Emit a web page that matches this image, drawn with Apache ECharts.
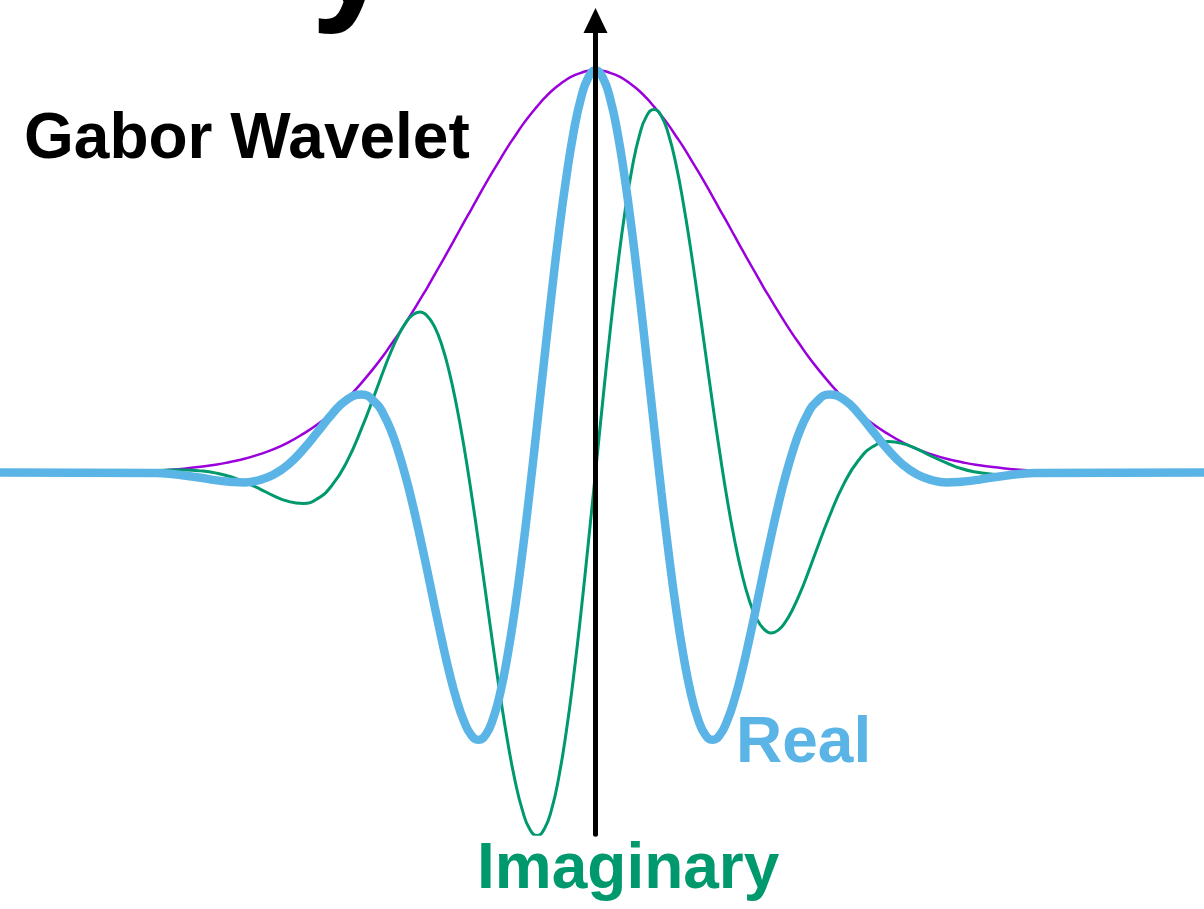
<!DOCTYPE html>
<html>
<head>
<meta charset="utf-8">
<title>Gabor Wavelet</title>
<script src="https://cdn.jsdelivr.net/npm/echarts@6/dist/echarts.min.js"></script>
<style>
  html, body { margin: 0; padding: 0; background: #ffffff; }
  #chart { width: 1204px; height: 909px; }
</style>
</head>
<body>
<div id="chart"></div>
<script>
// Sample positions along the horizontal axis (centre of the wavelet at 0);
// half steps near the centre where the oscillation is strongest
const positions = [
  -30, -29, -28, -27, -26, -25, -24, -23, -22, -21, -20, -19, -18, -17, -16, -15,
  -14.5, -14, -13.5, -13, -12.5, -12, -11.5, -11, -10.5, -10, -9.5, -9, -8.5, -8,
  -7.5, -7, -6.5, -6, -5.5, -5, -4.5, -4, -3.5, -3, -2.5, -2, -1.5, -1, -0.5,
  0,
  0.5, 1, 1.5, 2, 2.5, 3, 3.5, 4, 4.5, 5, 5.5, 6, 6.5, 7, 7.5,
  8, 8.5, 9, 9.5, 10, 10.5, 11, 11.5, 12, 12.5, 13, 13.5, 14, 14.5,
  15, 16, 17, 18, 19, 20, 21, 22, 23, 24, 25, 26, 27, 28, 29, 30
];

// Real part of the wavelet
const realPart = [
  -0.001, -0.004, -0.008, -0.013, -0.019, -0.023, -0.025, -0.019, -0.005, 0.020,
  0.057, 0.101, 0.146, 0.181, 0.194, 0.172,
  0.145, 0.106, 0.054, -0.008, -0.080, -0.160, -0.245, -0.333, -0.418, -0.497,
  -0.565, -0.618, -0.653, -0.665, -0.652, -0.612, -0.546, -0.453, -0.337, -0.200,
  -0.047, 0.116, 0.282, 0.445, 0.598, 0.733, 0.846, 0.930, 0.982,
  1.000,
  0.982, 0.930, 0.846, 0.733, 0.598, 0.445, 0.282, 0.116, -0.047, -0.200,
  -0.337, -0.453, -0.546, -0.612, -0.652, -0.665, -0.653, -0.618, -0.565, -0.497,
  -0.418, -0.333, -0.245, -0.160, -0.080, -0.008, 0.054, 0.106, 0.145,
  0.172, 0.194, 0.181, 0.146, 0.101, 0.057, 0.020, -0.005, -0.019, -0.025,
  -0.023, -0.019, -0.013, -0.008, -0.004, -0.001
];

// Imaginary part of the wavelet
const imagPart = [
  0.005, 0.006, 0.006, 0.004, -0.001, -0.010, -0.024, -0.040, -0.058, -0.072,
  -0.077, -0.065, -0.031, 0.027, 0.109, 0.204,
  0.253, 0.299, 0.339, 0.371, 0.392, 0.399, 0.389, 0.362, 0.316, 0.250,
  0.166, 0.066, -0.049, -0.173, -0.303, -0.433, -0.558, -0.671, -0.767, -0.840,
  -0.887, -0.903, -0.887, -0.838, -0.756, -0.645, -0.508, -0.351, -0.179,
  0.000,
  0.179, 0.351, 0.508, 0.645, 0.756, 0.838, 0.887, 0.903, 0.887, 0.840,
  0.767, 0.671, 0.558, 0.433, 0.303, 0.173, 0.049, -0.066, -0.166, -0.250,
  -0.316, -0.362, -0.389, -0.399, -0.392, -0.371, -0.339, -0.299, -0.253,
  -0.204, -0.109, -0.027, 0.031, 0.065, 0.077, 0.072, 0.058, 0.040, 0.024,
  0.010, 0.001, -0.004, -0.006, -0.006, -0.005
];

// Gaussian envelope
const envelope = [
  0.005, 0.007, 0.010, 0.014, 0.019, 0.026, 0.034, 0.045, 0.058, 0.075,
  0.096, 0.120, 0.149, 0.183, 0.223, 0.267,
  0.291, 0.317, 0.343, 0.371, 0.400, 0.430, 0.460, 0.492, 0.524, 0.556,
  0.589, 0.622, 0.654, 0.687, 0.719, 0.750, 0.780, 0.810, 0.837, 0.864,
  0.888, 0.910, 0.931, 0.949, 0.964, 0.977, 0.987, 0.994, 0.999,
  1.000,
  0.999, 0.994, 0.987, 0.977, 0.964, 0.949, 0.931, 0.910, 0.888, 0.864,
  0.837, 0.810, 0.780, 0.750, 0.719, 0.687, 0.654, 0.622, 0.589, 0.556,
  0.524, 0.492, 0.460, 0.430, 0.400, 0.371, 0.343, 0.317, 0.291,
  0.267, 0.223, 0.183, 0.149, 0.120, 0.096, 0.075, 0.058, 0.045, 0.034,
  0.026, 0.019, 0.014, 0.010, 0.007, 0.005
];

// Horizontal extent of the plot; the real part rests on 0 out there
const extent = [-40.72, 41.61];
const restValue = 0;

const BLUE = '#5AB4E6';
const GREEN = '#00996E';
const PURPLE = '#9A00DC';
const FONT = '"Liberation Sans", Arial, Helvetica, sans-serif';

const pairs = (values) => positions.map((x, i) => [x, values[i]]);

const realData = [[extent[0], restValue]].concat(pairs(realPart), [[extent[1], restValue]]);

const chart = echarts.init(document.getElementById('chart'), null, { renderer: 'canvas' });

chart.setOption({
  backgroundColor: '#ffffff',
  animation: false,
  grid: { left: 0, right: 0, top: 20.6, bottom: 74.7, containLabel: false },
  xAxis: {
    type: 'value',
    min: extent[0],
    max: extent[1],
    axisLine: { show: false },
    axisTick: { show: false },
    axisLabel: { show: false },
    splitLine: { show: false }
  },
  yAxis: {
    type: 'value',
    min: -0.9,
    max: 1.124,
    z: 10,
    axisLine: {
      show: true,
      onZero: true,
      symbol: ['none', 'triangle'],
      symbolSize: [24, 25],
      lineStyle: { color: '#000000', width: 5 }
    },
    axisTick: { show: false },
    axisLabel: { show: false },
    splitLine: { show: false }
  },
  series: [
    {
      name: 'Envelope',
      type: 'line',
      data: pairs(envelope),
      smooth: 0.5,
      showSymbol: false,
      silent: true,
      lineStyle: { color: PURPLE, width: 2.5 }
    },
    {
      name: 'Imaginary',
      type: 'line',
      data: pairs(imagPart),
      smooth: 0.5,
      showSymbol: false,
      silent: true,
      lineStyle: { color: GREEN, width: 3 }
    },
    {
      name: 'Real',
      type: 'line',
      data: realData,
      smooth: 0.5,
      showSymbol: false,
      silent: true,
      lineStyle: { color: BLUE, width: 8.5 }
    }
  ],
  graphic: [
    {
      type: 'text',
      x: 311, y: -38,
      silent: true,
      style: {
        text: 'y',
        font: 'bold 150px ' + FONT,
        fill: '#000000',
        textAlign: 'left', textVerticalAlign: 'middle'
      }
    },
    {
      type: 'text',
      x: 24, y: 140.3,
      silent: true,
      style: {
        text: 'Gabor Wavelet',
        font: 'bold 64px ' + FONT,
        fill: '#000000',
        textAlign: 'left', textVerticalAlign: 'middle'
      }
    },
    {
      type: 'text',
      x: 736, y: 744.8,
      silent: true,
      style: {
        text: 'Real',
        font: 'bold 64px ' + FONT,
        fill: BLUE,
        textAlign: 'left', textVerticalAlign: 'middle'
      }
    },
    {
      type: 'text',
      x: 477, y: 870.8,
      silent: true,
      style: {
        text: 'Imaginary',
        font: 'bold 64px ' + FONT,
        fill: GREEN,
        textAlign: 'left', textVerticalAlign: 'middle'
      }
    }
  ]
});
</script>
</body>
</html>
